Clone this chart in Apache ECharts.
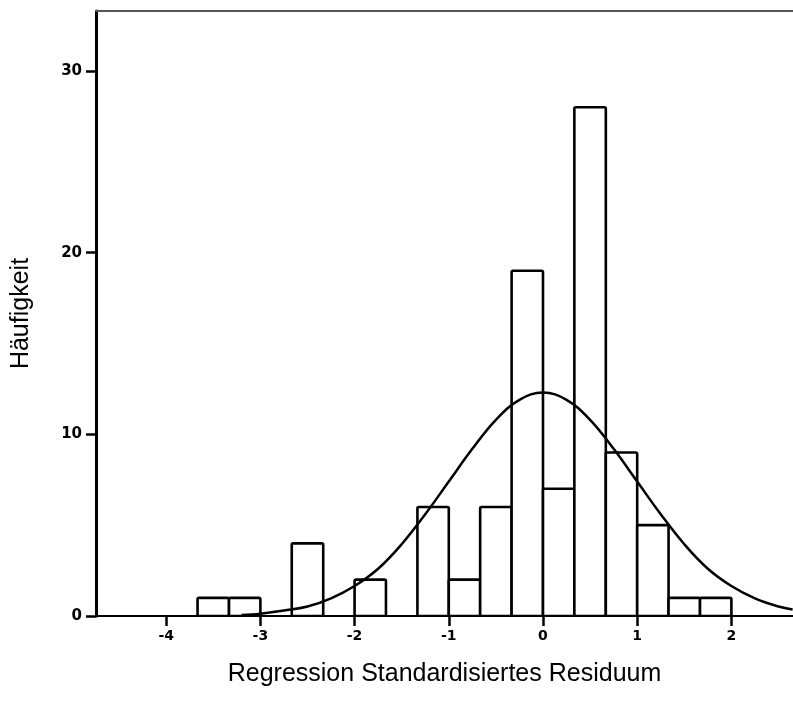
<!DOCTYPE html>
<html>
<head>
<meta charset="utf-8">
<script src="https://cdn.jsdelivr.net/npm/echarts@6/dist/echarts.min.js"></script>
<style>
html,body{margin:0;padding:0;background:#fff;}
#chart{width:793px;height:702px;}
</style>
</head>
<body>
<div id="chart"></div>
<script>
// Histogram bins (bin width 1/3)
const binStarts = [-3.667, -3.333, -2.667, -2.0, -1.333, -1.0, -0.667, -0.333, 0.0, 0.333, 0.667, 1.0, 1.333, 1.667];
const binEnds   = [-3.333, -3.0, -2.333, -1.667, -1.0, -0.667, -0.333, 0.0, 0.333, 0.667, 1.0, 1.333, 1.667, 2.0];
const counts    = [1, 1, 4, 2, 6, 2, 6, 19, 7, 28, 9, 5, 1, 1];

// Normal curve points
const curveX = [-3.2, -3.0, -2.75, -2.5, -2.25, -2.0, -1.75, -1.5, -1.25, -1.0, -0.75, -0.5, -0.25, 0.0, 0.25, 0.5, 0.75, 1.0, 1.25, 1.5, 1.75, 2.0, 2.25, 2.5, 2.65];
const curveY = [0.05, 0.13, 0.3, 0.52, 0.97, 1.65, 2.6, 3.95, 5.6, 7.4, 9.2, 10.8, 11.9, 12.3, 11.9, 10.8, 9.2, 7.4, 5.6, 3.95, 2.6, 1.65, 0.97, 0.52, 0.36];

// Axis ticks
const xTicks = [-4, -3, -2, -1, 0, 1, 2];
const yTicks = [0, 10, 20, 30];

const xMin = -4.745, xMax = 2.654, yMin = 0, yMax = 33.3;

const chart = echarts.init(document.getElementById('chart'), null, {renderer: 'canvas'});

const barData = binStarts.map((s, i) => [s, binEnds[i], counts[i]]);
const lineData = curveX.map((x, i) => [x, curveY[i]]);

chart.setOption({
  animation: false,
  backgroundColor: '#fff',
  grid: {left: 96, top: 11, right: 0, bottom: 86, containLabel: false},
  xAxis: [{
    type: 'value', min: xMin, max: xMax,
    name: 'Regression Standardisiertes Residuum',
    nameLocation: 'middle', nameGap: 46,
    nameTextStyle: {fontFamily: 'Liberation Sans', fontSize: 25, color: '#000'},
    axisLine: {show: true, onZero: false, lineStyle: {color: '#000', width: 2}},
    axisTick: {show: true, customValues: xTicks, length: 10, lineStyle: {color: '#000', width: 2.5}},
    axisLabel: {customValues: xTicks, margin: 13, fontFamily: 'DejaVu Sans', fontWeight: 'bold', fontSize: 14, color: '#000'},
    splitLine: {show: false}
  }, {
    type: 'value', min: xMin, max: xMax, position: 'top',
    axisLine: {show: true, onZero: false, lineStyle: {color: '#555', width: 2}},
    axisTick: {show: false}, axisLabel: {show: false}, splitLine: {show: false}
  }],
  yAxis: [{
    type: 'value', min: yMin, max: yMax, position: 'left',
    name: 'Häufigkeit', nameLocation: 'middle', nameGap: 62, nameRotate: 90,
    nameTextStyle: {fontFamily: 'Liberation Sans', fontSize: 25, color: '#000'},
    axisLine: {show: true, onZero: false, lineStyle: {color: '#000', width: 3}},
    axisTick: {show: true, customValues: yTicks, length: 10, lineStyle: {color: '#000', width: 2.5}},
    axisLabel: {customValues: yTicks, margin: 14, fontFamily: 'DejaVu Sans', fontWeight: 'bold', fontSize: 15, color: '#000'},
    splitLine: {show: false}
  }],
  series: [{
    type: 'custom',
    xAxisIndex: 0, yAxisIndex: 0,
    data: barData,
    clip: true,
    z: 2,
    renderItem: function (params, api) {
      const x0 = api.value(0), x1 = api.value(1), h = api.value(2);
      const p0 = api.coord([x0, h]);
      const p1 = api.coord([x1, 0]);
      return {
        type: 'rect',
        shape: {x: p0[0], y: p0[1], width: p1[0] - p0[0], height: p1[1] - p0[1], r: 1.5},
        style: {fill: '#fff', stroke: '#000', lineWidth: 2.6}
      };
    }
  }, {
    type: 'line',
    xAxisIndex: 0, yAxisIndex: 0,
    data: lineData,
    smooth: 0.4,
    showSymbol: false,
    symbol: 'none',
    z: 3,
    lineStyle: {color: '#000', width: 2.5}
  }]
});
</script>
</body>
</html>
